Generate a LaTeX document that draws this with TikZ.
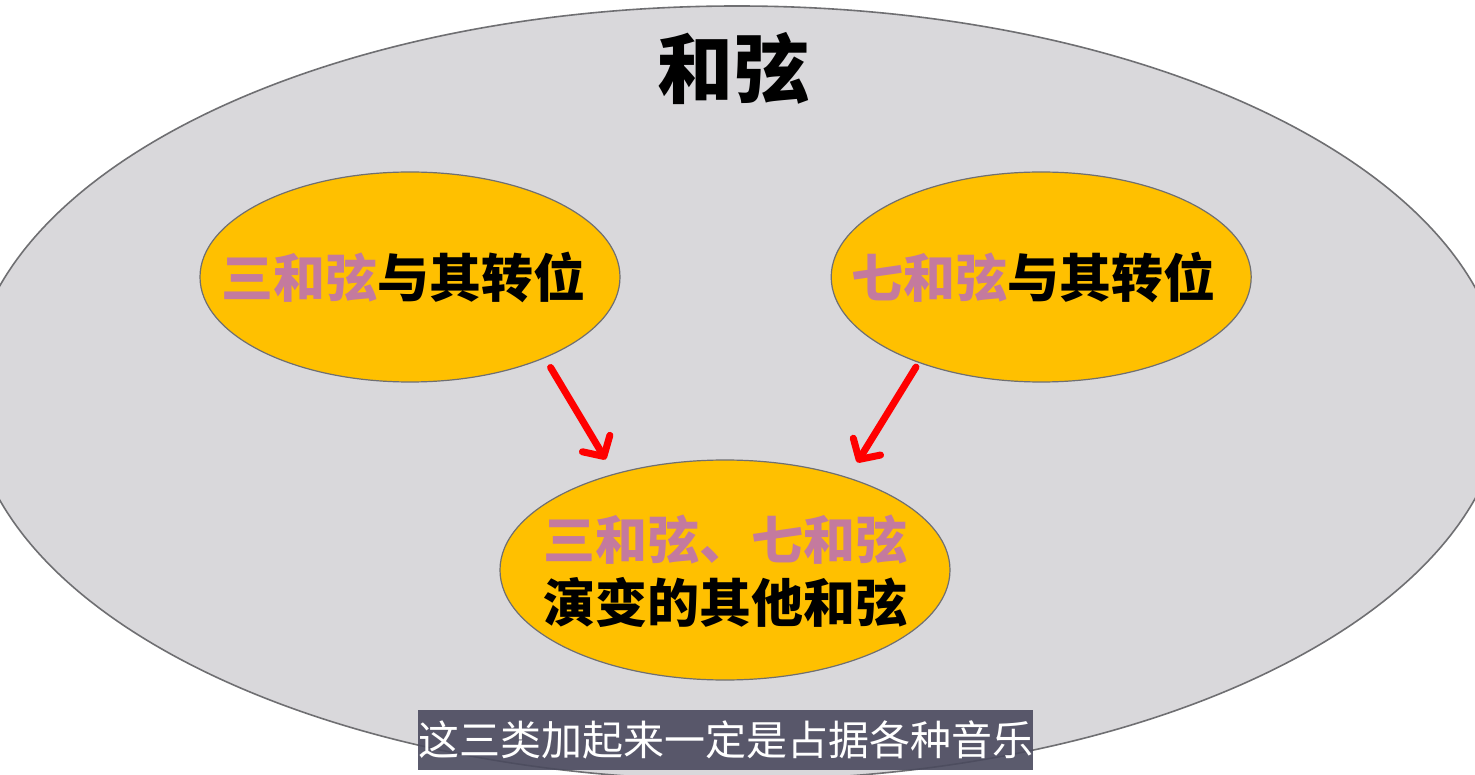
\documentclass[tikz,border=0pt]{standalone}
\usepackage{fontspec}
\newfontfamily\cjk{Noto Sans CJK SC}[BoldFont={Noto Sans CJK SC Black}]
\usetikzlibrary{shapes.geometric, arrows.meta, positioning}
\definecolor{chordgray}{HTML}{D9D8DB}
\definecolor{edgegray}{HTML}{6F6F72}
\definecolor{bubbleyellow}{HTML}{FFC000}
\definecolor{notepink}{HTML}{C47A9E}
\definecolor{subbg}{HTML}{4A4A5E}
\newcommand{\pk}[1]{\textcolor{notepink}{#1}}

\begin{document}
\begin{tikzpicture}[x=1pt, y=-1pt,
        outer/.style={draw=edgegray, line width=1.6pt, fill=chordgray, ellipse, inner sep=0pt, minimum width=1534pt, minimum height=774pt},
        bubble/.style={draw=edgegray, line width=1.2pt, fill=bubbleyellow, ellipse, inner sep=0pt},
        lbl/.style={font=\cjk\bfseries\fontsize{52}{63}\selectfont, align=center, inner sep=0pt},
        push/.style={draw=red, line width=7pt, line cap=round, -{Straight Barb[length=15pt, width=32pt, line cap=round, line join=round]}},
        subbox/.style={fill=subbg, fill opacity=0.9, text opacity=1, text=white, inner sep=0pt, minimum width=615pt, minimum height=60pt, font=\cjk\fontsize{41}{48}\selectfont}
    ]
        \useasboundingbox (0,0) rectangle (1475,775);
        \clip (0,0) rectangle (1475,775);
        \fill[white] (0,0) rectangle (1475,775);

        \node[outer] (chord) at (737,393) {};
        \node[font=\cjk\bfseries\fontsize{76}{80}\selectfont, inner sep=0pt] (title) at (733,69) {和弦};

        % the two source bubbles
        \node[bubble, minimum width=420pt, minimum height=210pt] (tri) at (410,277) {};
        \node[bubble, minimum width=420pt, minimum height=210pt, right=210pt of tri] (sev) {};
        \node[lbl] (tritxt) at ([xshift=-7pt]tri.center) {\pk{三和弦}与其转位};
        \node[lbl] (sevtxt) at ([xshift=-8pt]sev.center) {\pk{七和弦}与其转位};

        % the derived bubble
        \node[bubble, minimum width=450pt, minimum height=220pt] (other) at (725,570) {};
        \node[lbl] (othertxt) at ([yshift=-1pt]other.center) {\pk{三和弦、七和弦}\\演变的其他和弦};

        \draw[push, shorten <=11pt, shorten >=16.6pt] (tri.-31) -- (other.139);
        \draw[push, shorten <=5pt, shorten >=17.5pt] (sev.215) -- (other.37);

        \node[subbox] (sub) at (725.5,740) {这三类加起来一定是占据各种音乐};
    \end{tikzpicture}
\end{document}
